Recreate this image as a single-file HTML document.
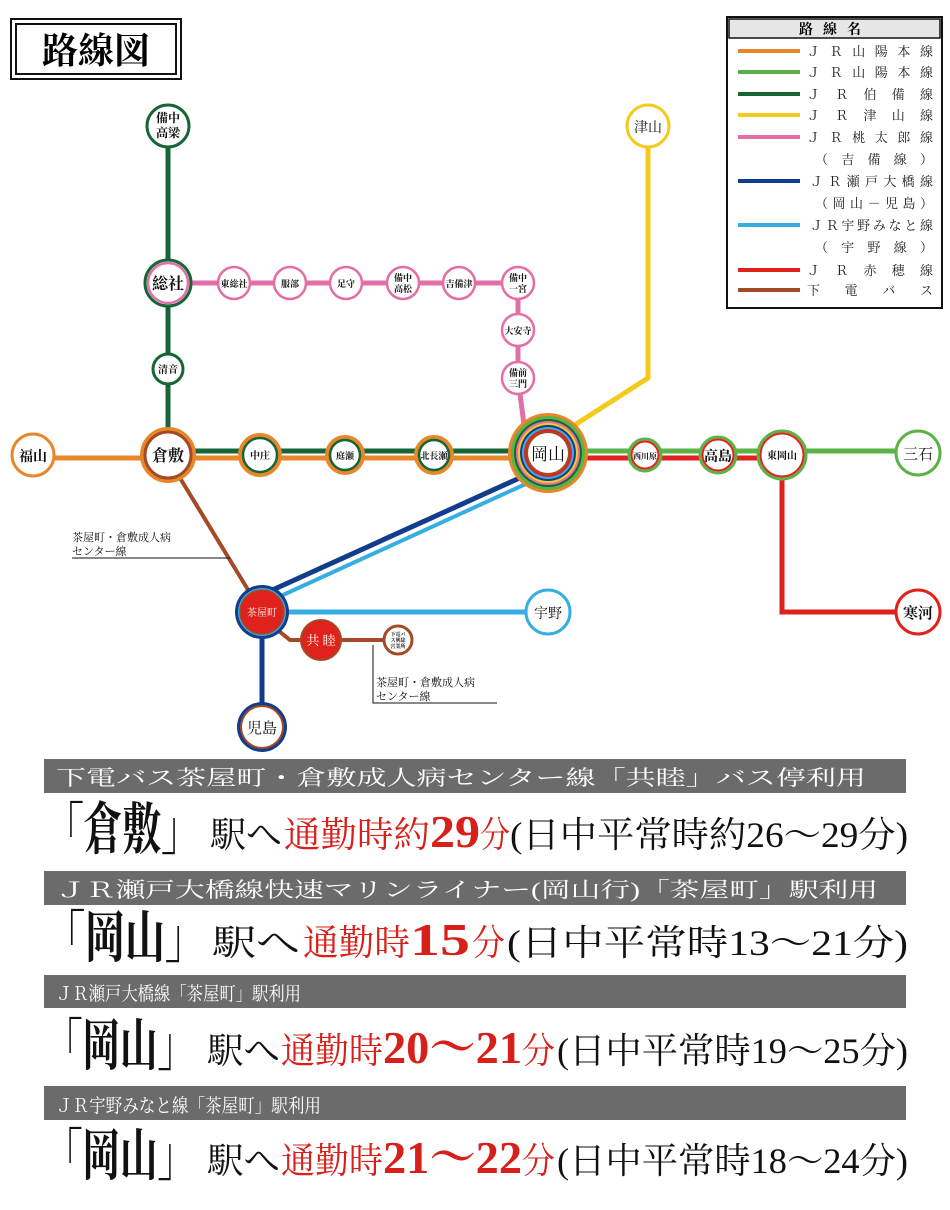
<!DOCTYPE html>
<html><head><meta charset="utf-8"><style>
html,body{margin:0;padding:0;background:#fff;}
svg{display:block;}
text{font-family:"Liberation Sans","Noto Sans CJK JP",sans-serif;}
.s,.s text,text.s{font-family:"Liberation Serif","Noto Serif CJK SC",serif;}
</style></head><body>
<svg width="950" height="1210" viewBox="0 0 950 1210" xmlns="http://www.w3.org/2000/svg">
<rect x="11" y="19" width="170" height="60" fill="none" stroke="#111" stroke-width="2"/>
<rect x="16" y="24" width="160" height="50" fill="none" stroke="#111" stroke-width="2"/>
<text x="96" y="63" text-anchor="middle" font-size="36" font-weight="bold" class="s">路線図</text>

<rect x="727" y="17" width="215" height="291" fill="#fff" stroke="#111" stroke-width="2"/>
<rect x="729" y="19" width="211" height="19" fill="#e6e6e6" stroke="#111" stroke-width="1.5"/>
<text x="835" y="34" text-anchor="middle" font-size="14" font-weight="bold" letter-spacing="10" class="s">路線名</text>
<g stroke-width="4">
<line x1="738" y1="51" x2="800" y2="51" stroke="#e8862a"/>
<line x1="738" y1="72" x2="800" y2="72" stroke="#5bb246"/>
<line x1="738" y1="94" x2="800" y2="94" stroke="#176535"/>
<line x1="738" y1="115" x2="800" y2="115" stroke="#f2cb1d"/>
<line x1="738" y1="137" x2="800" y2="137" stroke="#e46ea8"/>
<line x1="738" y1="181" x2="800" y2="181" stroke="#123d8d"/>
<line x1="738" y1="225" x2="800" y2="225" stroke="#36aee0"/>
<line x1="738" y1="270" x2="800" y2="270" stroke="#e0221c"/>
<line x1="738" y1="290" x2="800" y2="290" stroke="#a44a25"/>
</g>
<g font-size="13" fill="#222" class="s">
<text x="807" y="56" textLength="126" lengthAdjust="spacing">ＪＲ山陽本線</text>
<text x="807" y="77" textLength="126" lengthAdjust="spacing">ＪＲ山陽本線</text>
<text x="807" y="99" textLength="126" lengthAdjust="spacing">ＪＲ伯備線</text>
<text x="807" y="120" textLength="126" lengthAdjust="spacing">ＪＲ津山線</text>
<text x="807" y="142" textLength="126" lengthAdjust="spacing">ＪＲ桃太郎線</text>
<text x="815" y="164" textLength="118" lengthAdjust="spacing">（吉備線）</text>
<text x="810" y="186" textLength="123" lengthAdjust="spacing">ＪＲ瀬戸大橋線</text>
<text x="815" y="208" textLength="118" lengthAdjust="spacing">（岡山－児島）</text>
<text x="810" y="230" textLength="123" lengthAdjust="spacing">ＪＲ宇野みなと線</text>
<text x="815" y="252" textLength="118" lengthAdjust="spacing">（宇野線）</text>
<text x="807" y="275" textLength="126" lengthAdjust="spacing">ＪＲ赤穂線</text>
<text x="807" y="295" textLength="126" lengthAdjust="spacing">下電バス</text>
</g>

<g fill="none">
<line x1="168" y1="126" x2="168" y2="455" stroke="#176535" stroke-width="5"/>
<line x1="168" y1="283" x2="518" y2="283" stroke="#e46ea8" stroke-width="5"/>
<polyline points="518,283 518,378 524,425" stroke="#e46ea8" stroke-width="5"/>
<polyline points="648,126 648,378 570,428" stroke="#f2cb1d" stroke-width="5"/>
<line x1="33" y1="458" x2="548" y2="458" stroke="#e8862a" stroke-width="5"/>
<line x1="168" y1="451" x2="548" y2="451" stroke="#176535" stroke-width="5"/>
<line x1="548" y1="451" x2="918" y2="451" stroke="#5bb246" stroke-width="5"/>
<line x1="548" y1="458" x2="782" y2="458" stroke="#e0221c" stroke-width="5"/>
<polyline points="782,458 782,612 918,612" stroke="#e0221c" stroke-width="5"/>
<line x1="180" y1="478" x2="253" y2="598" stroke="#a44a25" stroke-width="4"/>
<line x1="268" y1="592" x2="524" y2="476" stroke="#123d8d" stroke-width="5"/>
<line x1="272" y1="600" x2="530" y2="482" stroke="#36aee0" stroke-width="4"/>
<line x1="262" y1="612" x2="548" y2="612" stroke="#36aee0" stroke-width="5"/>
<line x1="262" y1="612" x2="262" y2="727" stroke="#123d8d" stroke-width="5"/>
<polyline points="275,628 290,640 398,640" stroke="#a44a25" stroke-width="4"/>
</g>

<g>
<circle cx="168" cy="126" r="21" fill="#fff" stroke="#176535" stroke-width="3"/>
<circle cx="168" cy="283" r="23" fill="#fff" stroke="#176535" stroke-width="3"/>
<circle cx="168" cy="283" r="20" fill="#fff" stroke="#e46ea8" stroke-width="2.5"/>
<circle cx="168" cy="369" r="15" fill="#fff" stroke="#176535" stroke-width="3"/>
<circle cx="168" cy="455" r="26" fill="#fff" stroke="#e8862a" stroke-width="4"/>
<circle cx="168" cy="455" r="23" fill="#fff" stroke="#a44a25" stroke-width="3"/>
<circle cx="33" cy="455" r="21" fill="#fff" stroke="#e8862a" stroke-width="3"/>
<circle cx="260" cy="455" r="20" fill="#fff" stroke="#e8862a" stroke-width="4"/>
<circle cx="260" cy="455" r="17" fill="#fff" stroke="#176535" stroke-width="2.5"/>
<circle cx="345" cy="455" r="18" fill="#fff" stroke="#e8862a" stroke-width="4"/>
<circle cx="345" cy="455" r="15" fill="#fff" stroke="#176535" stroke-width="2.5"/>
<circle cx="434" cy="455" r="18" fill="#fff" stroke="#e8862a" stroke-width="4"/>
<circle cx="434" cy="455" r="15" fill="#fff" stroke="#176535" stroke-width="2.5"/>
<g fill="#fff" stroke="#e46ea8" stroke-width="2.5">
<circle cx="234" cy="283" r="16"/><circle cx="290" cy="283" r="16"/><circle cx="346" cy="283" r="16"/>
<circle cx="403" cy="283" r="16"/><circle cx="459" cy="283" r="16"/><circle cx="518" cy="283" r="16"/>
<circle cx="518" cy="330" r="16"/><circle cx="518" cy="378" r="16"/>
</g>
<circle cx="548" cy="453" r="40" fill="#e8862a"/>
<circle cx="548" cy="453" r="37" fill="#5bb246"/>
<circle cx="548" cy="453" r="34" fill="#176535"/>
<circle cx="548" cy="453" r="32" fill="#e46ea8"/>
<circle cx="548" cy="453" r="30" fill="#f2cb1d"/>
<circle cx="548" cy="453" r="28" fill="#123d8d"/>
<circle cx="548" cy="453" r="26" fill="#36aee0"/>
<circle cx="548" cy="453" r="24" fill="#e0221c"/>
<circle cx="548" cy="453" r="22" fill="#a44a25"/>
<circle cx="548" cy="453" r="20" fill="#fff"/>
<circle cx="648" cy="126" r="21" fill="#fff" stroke="#f2cb1d" stroke-width="3"/>
<circle cx="645" cy="455" r="16" fill="#fff" stroke="#5bb246" stroke-width="3"/>
<circle cx="645" cy="455" r="13.5" fill="#fff" stroke="#e0221c" stroke-width="2"/>
<circle cx="718" cy="455" r="18" fill="#fff" stroke="#5bb246" stroke-width="3"/>
<circle cx="718" cy="455" r="15.5" fill="#fff" stroke="#e0221c" stroke-width="2"/>
<circle cx="782" cy="455" r="24" fill="#fff" stroke="#5bb246" stroke-width="3"/>
<circle cx="782" cy="455" r="21.5" fill="#fff" stroke="#e0221c" stroke-width="2"/>
<circle cx="918" cy="453" r="22" fill="#fff" stroke="#5bb246" stroke-width="3"/>
<circle cx="918" cy="612" r="22" fill="#fff" stroke="#e0221c" stroke-width="3"/>
<circle cx="262" cy="612" r="27" fill="#123d8d"/>
<circle cx="262" cy="612" r="24" fill="#36aee0"/>
<circle cx="262" cy="612" r="22" fill="#e0221c" stroke="#a44a25" stroke-width="1.5"/>
<circle cx="548" cy="612" r="22" fill="#fff" stroke="#36aee0" stroke-width="3"/>
<circle cx="321" cy="640" r="20" fill="#e0221c" stroke="#a44a25" stroke-width="2"/>
<circle cx="398" cy="640" r="14" fill="#fff" stroke="#a44a25" stroke-width="3"/>
<circle cx="262" cy="727" r="25" fill="#123d8d"/>
<circle cx="262" cy="727" r="22" fill="#a44a25"/>
<circle cx="262" cy="727" r="20" fill="#fff"/>
</g>

<g text-anchor="middle" font-weight="bold" fill="#111" class="s">
<text x="168" y="122" font-size="12">備中</text><text x="168" y="137" font-size="12">高梁</text>
<text x="168" y="289" font-size="16">総社</text>
<text x="168" y="373" font-size="10">清音</text>
<text x="168" y="461" font-size="16">倉敷</text>
<text x="33" y="461" font-size="14">福山</text>
<text x="260" y="459" font-size="10">中庄</text>
<text x="345" y="459" font-size="9">庭瀬</text>
<text x="434" y="459" font-size="9">北長瀬</text>
<text x="234" y="287" font-size="9">東総社</text>
<text x="290" y="287" font-size="9">服部</text>
<text x="346" y="287" font-size="9">足守</text>
<text x="403" y="281" font-size="9">備中</text><text x="403" y="292" font-size="9">高松</text>
<text x="459" y="287" font-size="9">吉備津</text>
<text x="518" y="281" font-size="9">備中</text><text x="518" y="292" font-size="9">一宮</text>
<text x="518" y="334" font-size="9">大安寺</text>
<text x="518" y="376" font-size="9">備前</text><text x="518" y="387" font-size="9">三門</text>
<text x="548" y="460" font-size="17" font-weight="normal">岡山</text>
<text x="648" y="132" font-size="14" font-weight="normal">津山</text>
<text x="645" y="459" font-size="8">西川原</text>
<text x="718" y="461" font-size="14">高島</text>
<text x="782" y="459" font-size="10">東岡山</text>
<text x="918" y="459" font-size="15" font-weight="normal">三石</text>
<text x="918" y="618" font-size="15">寒河</text>
<text x="262" y="616" font-size="10" fill="#fff" font-weight="normal">茶屋町</text>
<text x="548" y="618" font-size="14" font-weight="normal">宇野</text>
<text x="321" y="645" font-size="13" fill="#fff" font-weight="normal">共 睦</text>
<text x="398" y="636" font-size="5">下電バ</text><text x="398" y="642" font-size="5">ス興除</text><text x="398" y="648" font-size="5">営業所</text>
<text x="262" y="733" font-size="15" font-weight="normal">児島</text>
</g>
<g font-size="11" fill="#111" class="s">
<text x="72" y="541">茶屋町・倉敷成人病</text>
<text x="72" y="555">センター線</text>
<line x1="72" y1="558" x2="230" y2="558" stroke="#111"/>
<text x="376" y="686">茶屋町・倉敷成人病</text>
<text x="376" y="700">センター線</text>
<polyline points="373,645 373,703 497,703" fill="none" stroke="#111"/>
</g>

<g fill="#6b6b6b">
<rect x="44" y="759" width="862" height="34"/>
<rect x="44" y="871" width="862" height="34"/>
<rect x="44" y="975" width="862" height="33"/>
<rect x="44" y="1086" width="862" height="34"/>
</g>
<g fill="#fff" font-size="21" class="s">
<text x="56" y="785" textLength="810" lengthAdjust="spacingAndGlyphs">下電バス茶屋町・倉敷成人病センター線「共睦」バス停利用</text>
<text x="56" y="897" textLength="822" lengthAdjust="spacingAndGlyphs">ＪＲ瀬戸大橋線快速マリンライナー(岡山行)「茶屋町」駅利用</text>
<text x="56" y="1000" font-size="19" textLength="245" lengthAdjust="spacingAndGlyphs">ＪＲ瀬戸大橋線「茶屋町」駅利用</text>
<text x="56" y="1112" font-size="19" textLength="265" lengthAdjust="spacingAndGlyphs">ＪＲ宇野みなと線「茶屋町」駅利用</text>
</g>

<g class="s" fill="#111">
<text x="45" y="849" font-size="56" font-weight="bold" textLength="155" lengthAdjust="spacingAndGlyphs">「倉敷」</text>
<text x="210" y="847" font-size="36" textLength="72" lengthAdjust="spacingAndGlyphs">駅へ</text>
<text x="284" y="847" font-size="36" fill="#d8201a" textLength="146" lengthAdjust="spacingAndGlyphs">通勤時約</text>
<text x="430" y="847" font-size="46" font-weight="bold" fill="#d8201a" textLength="50" lengthAdjust="spacingAndGlyphs">29</text>
<text x="480" y="847" font-size="36" fill="#d8201a" textLength="30" lengthAdjust="spacingAndGlyphs">分</text>
<text x="510" y="847" font-size="36" textLength="398" lengthAdjust="spacingAndGlyphs">(日中平常時約26～29分)</text>

<text x="45" y="957" font-size="56" font-weight="bold" textLength="160" lengthAdjust="spacingAndGlyphs">「岡山」</text>
<text x="212" y="955" font-size="36" textLength="88" lengthAdjust="spacingAndGlyphs">駅へ</text>
<text x="303" y="955" font-size="36" fill="#d8201a" textLength="107" lengthAdjust="spacingAndGlyphs">通勤時</text>
<text x="410" y="955" font-size="46" font-weight="bold" fill="#d8201a" textLength="60" lengthAdjust="spacingAndGlyphs">15</text>
<text x="472" y="955" font-size="36" fill="#d8201a" textLength="33" lengthAdjust="spacingAndGlyphs">分</text>
<text x="507" y="955" font-size="36" textLength="401" lengthAdjust="spacingAndGlyphs">(日中平常時13～21分)</text>

<text x="45" y="1065" font-size="56" font-weight="bold" textLength="150" lengthAdjust="spacingAndGlyphs">「岡山」</text>
<text x="207" y="1063" font-size="36" textLength="73" lengthAdjust="spacingAndGlyphs">駅へ</text>
<text x="281" y="1063" font-size="36" fill="#d8201a" textLength="102" lengthAdjust="spacingAndGlyphs">通勤時</text>
<text x="383" y="1063" font-size="46" font-weight="bold" fill="#d8201a" textLength="139" lengthAdjust="spacingAndGlyphs">20～21</text>
<text x="522" y="1063" font-size="36" fill="#d8201a" textLength="33" lengthAdjust="spacingAndGlyphs">分</text>
<text x="557" y="1063" font-size="36" textLength="351" lengthAdjust="spacingAndGlyphs">(日中平常時19～25分)</text>

<text x="45" y="1175" font-size="56" font-weight="bold" textLength="150" lengthAdjust="spacingAndGlyphs">「岡山」</text>
<text x="207" y="1173" font-size="36" textLength="73" lengthAdjust="spacingAndGlyphs">駅へ</text>
<text x="281" y="1173" font-size="36" fill="#d8201a" textLength="102" lengthAdjust="spacingAndGlyphs">通勤時</text>
<text x="383" y="1173" font-size="46" font-weight="bold" fill="#d8201a" textLength="139" lengthAdjust="spacingAndGlyphs">21～22</text>
<text x="522" y="1173" font-size="36" fill="#d8201a" textLength="33" lengthAdjust="spacingAndGlyphs">分</text>
<text x="557" y="1173" font-size="36" textLength="351" lengthAdjust="spacingAndGlyphs">(日中平常時18～24分)</text>
</g>
</svg>
</body></html>
